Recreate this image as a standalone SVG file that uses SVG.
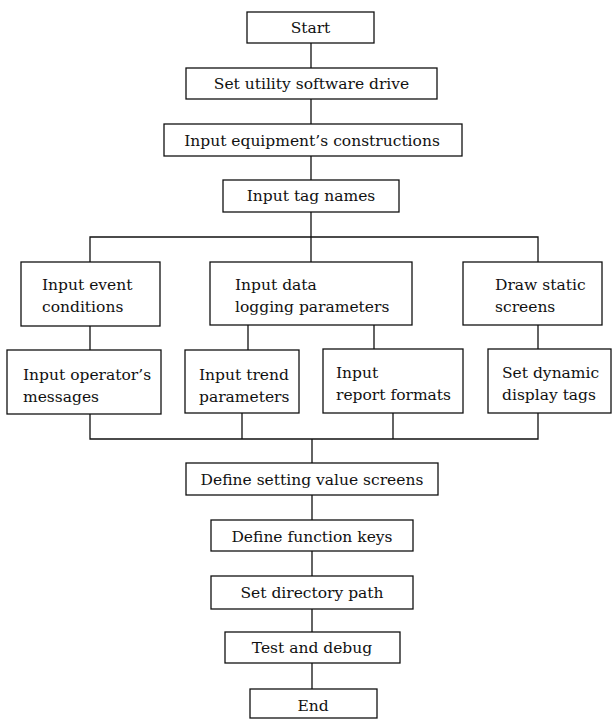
<svg xmlns="http://www.w3.org/2000/svg" width="612" height="719" viewBox="0 0 612 719">
<style>
rect{fill:#fff;stroke:#111;stroke-width:1.3}
text{font-family:"DejaVu Serif","Liberation Serif",serif;font-size:15.5px;fill:#111}
.c{text-anchor:middle}
#connectors path{fill:none;stroke:#111;stroke-width:1.3}
</style>
<rect x="0" y="0" width="612" height="719" style="fill:#fff;stroke:none"/>
<g id="connectors">
<path d="M311 43V68M311 99V124M311 156V180M311 212V237"/>
<path d="M90 262V237H538V262M311 237V262"/>
<path d="M90 326V350M248 325V350M374 325V349M538 325V349"/>
<path d="M90 414V439H538V413M242 413V439M393 413V439M312 439V463"/>
<path d="M312 495V520M312 551V576M312 609V632M312 663V689"/>
</g>
<g id="start"><rect x="247" y="12" width="127" height="31"/><text class="c" x="310.5" y="33">Start</text></g>
<g id="set-utility"><rect x="186" y="68" width="251" height="31"/><text class="c" x="311.5" y="89">Set utility software drive</text></g>
<g id="input-equipment"><rect x="164" y="124" width="298" height="32"/><text class="c" x="312" y="146">Input equipment’s constructions</text></g>
<g id="input-tag"><rect x="223" y="180" width="176" height="32"/><text class="c" x="311" y="201">Input tag names</text></g>
<g id="event"><rect x="21" y="262" width="139" height="64"/><text x="42" y="290">Input event</text><text x="42" y="312">conditions</text></g>
<g id="data-logging"><rect x="210" y="262" width="202" height="63"/><text x="235" y="290">Input data</text><text x="235" y="312">logging parameters</text></g>
<g id="static"><rect x="463" y="262" width="139" height="63"/><text x="495" y="290">Draw static</text><text x="495" y="312">screens</text></g>
<g id="operator"><rect x="7" y="350" width="154" height="64"/><text x="23" y="380">Input operator’s</text><text x="23" y="402">messages</text></g>
<g id="trend"><rect x="185" y="350" width="114" height="63"/><text x="199" y="380">Input trend</text><text x="199" y="402">parameters</text></g>
<g id="report"><rect x="323" y="349" width="140" height="64"/><text x="336" y="378">Input</text><text x="336" y="400">report formats</text></g>
<g id="dynamic"><rect x="488" y="349" width="123" height="64"/><text x="502" y="378">Set dynamic</text><text x="502" y="400">display tags</text></g>
<g id="setting-value"><rect x="186" y="463" width="252" height="32"/><text class="c" x="312" y="485">Define setting value screens</text></g>
<g id="function-keys"><rect x="211" y="520" width="202" height="31"/><text class="c" x="312" y="542">Define function keys</text></g>
<g id="directory"><rect x="211" y="576" width="202" height="33"/><text class="c" x="312" y="598">Set directory path</text></g>
<g id="test"><rect x="225" y="632" width="175" height="31"/><text class="c" x="312" y="653">Test and debug</text></g>
<g id="end"><rect x="250" y="689" width="127" height="29"/><text class="c" x="313" y="711">End</text></g>
</svg>
